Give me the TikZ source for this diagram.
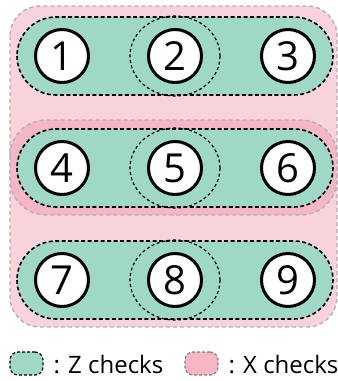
\documentclass[tikz,border=0pt]{standalone}
\usepackage{fontspec}
\setmainfont{Open Sans}
\usepackage{tikz}
\usetikzlibrary{shapes.geometric}

\definecolor{zgreen}{HTML}{A0D8C8}
\definecolor{xpink}{HTML}{F9D3DB}
\definecolor{xpinkdark}{HTML}{F5B7C4}

\begin{document}
\begin{tikzpicture}[x=1pt, y=-1pt,
  qubit/.style={circle, draw=black, line width=3pt, fill=white, minimum size=53pt,
    inner sep=0pt, font=\fontsize{40}{40}\selectfont},
  zcheck/.style={fill=zgreen, draw=black, line width=1.6pt, dash pattern=on 4pt off 2.5pt},
  xcheck/.style={draw=gray!60, line width=1.4pt, dash pattern=on 4pt off 3pt},
  wtwo/.style={ellipse, draw=black, line width=1.2pt, dash pattern=on 3pt off 2.5pt,
    minimum width=90pt, minimum height=80pt, inner sep=0pt},
  keybox/.style={minimum width=33pt, minimum height=23pt, rounded corners=8pt,
    line width=1.2pt, dash pattern=on 3pt off 2pt},
  keytext/.style={anchor=base west, font=\fontsize{24}{24}\selectfont}]
\useasboundingbox (0,0) rectangle (338,381);
\clip (0,0) rectangle (338,381);

%--- X checks (pink) ---
\draw[xcheck, fill=xpink, rounded corners=30pt] (10,6) rectangle (337,327);
\draw[xcheck, fill=xpinkdark, rounded corners=36pt] (10,120) rectangle (337,215);

%--- Z checks (green stadiums) ---
\foreach \y in {56,168,280}
  \draw[zcheck, rounded corners=39pt] (17,\y-39) rectangle (333,\y+39);

% weight-two checks round the middle column
\node[wtwo] (e2) at (175,56) {};
\node[wtwo] (e5) at (175,168) {};
\node[wtwo] (e8) at (175,280) {};

%--- Qubits ---
\foreach \n/\x/\y in {1/62/56, 2/175/56, 3/288/56,
                      4/62/168, 5/175/168, 6/288/168,
                      7/62/280, 8/175/280, 9/288/280}
  \node[qubit] (q\n) at (\x,\y) {\n};

%--- Legend ---
\node[keybox, fill=zgreen, draw=black] (zkey) at (26.5,363.5) {};
\node[keytext] (ztext) at (50,373) {: Z checks};
\node[keybox, fill=xpinkdark, draw=gray] (xkey) at (201.5,363.5) {};
\node[keytext] (xtext) at (225,373) {: X checks};
\end{tikzpicture}
\end{document}
